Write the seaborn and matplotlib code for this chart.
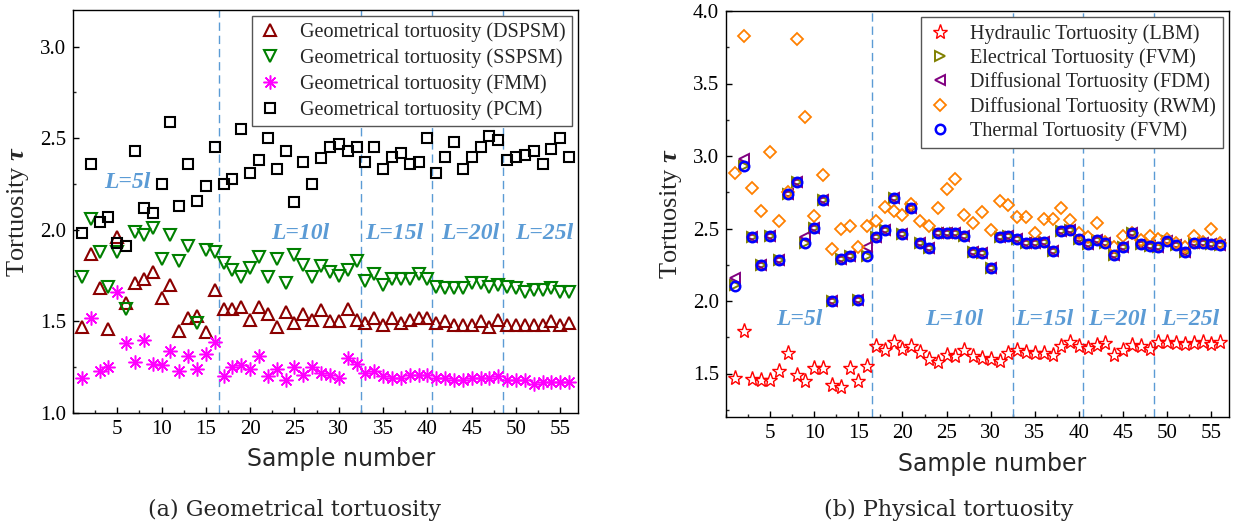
import numpy as np
import pandas as pd
import matplotlib
matplotlib.use('Agg')
import matplotlib.pyplot as plt
import seaborn as sns
from matplotlib.ticker import MultipleLocator, FixedLocator, FormatStrFormatter

# ---------------- data ----------------
samples = list(range(1, 57))

geo_dspsm = [1.47, 1.87, 1.68, 1.46, 1.96, 1.60, 1.71, 1.73, 1.77, 1.63, 1.70, 1.45, 1.52, 1.53, 1.44, 1.67,
             1.57, 1.57, 1.58, 1.51, 1.58, 1.54, 1.47, 1.55, 1.49, 1.54, 1.51, 1.56, 1.50, 1.50, 1.57, 1.51,
             1.49, 1.52, 1.48, 1.52, 1.49, 1.51, 1.52, 1.52, 1.49, 1.50, 1.48, 1.48, 1.48, 1.50, 1.47, 1.51,
             1.48, 1.48, 1.48, 1.48, 1.48, 1.50, 1.48, 1.49]
geo_sspsm = [1.74, 2.06, 1.88, 1.69, 1.88, 1.57, 1.99, 1.97, 2.01, 1.84, 1.97, 1.83, 1.91, 1.49, 1.89, 1.88,
             1.82, 1.78, 1.74, 1.79, 1.85, 1.74, 1.84, 1.71, 1.86, 1.81, 1.74, 1.80, 1.77, 1.75, 1.78, 1.83,
             1.72, 1.76, 1.70, 1.73, 1.73, 1.73, 1.76, 1.73, 1.69, 1.68, 1.68, 1.68, 1.71, 1.71, 1.69, 1.70,
             1.69, 1.68, 1.66, 1.67, 1.67, 1.68, 1.66, 1.66]
geo_fmm = [1.19, 1.52, 1.23, 1.25, 1.66, 1.38, 1.28, 1.40, 1.27, 1.26, 1.34, 1.23, 1.31, 1.24, 1.32, 1.39,
           1.20, 1.25, 1.26, 1.24, 1.31, 1.20, 1.24, 1.18, 1.25, 1.21, 1.25, 1.22, 1.21, 1.19, 1.30, 1.27,
           1.22, 1.23, 1.20, 1.19, 1.19, 1.21, 1.21, 1.21, 1.19, 1.19, 1.18, 1.18, 1.19, 1.19, 1.19, 1.20,
           1.18, 1.18, 1.18, 1.16, 1.17, 1.17, 1.17, 1.17]
geo_pcm = [1.98, 2.36, 2.04, 2.07, 1.93, 1.91, 2.43, 2.12, 2.09, 2.25, 2.59, 2.13, 2.36, 2.16, 2.24, 2.45,
           2.25, 2.28, 2.55, 2.31, 2.38, 2.50, 2.33, 2.43, 2.15, 2.37, 2.25, 2.39, 2.45, 2.47, 2.43, 2.45,
           2.37, 2.45, 2.33, 2.40, 2.42, 2.36, 2.37, 2.50, 2.31, 2.40, 2.48, 2.33, 2.40, 2.45, 2.51, 2.49,
           2.38, 2.40, 2.41, 2.43, 2.36, 2.44, 2.50, 2.40]

hyd_lbm = [1.47, 1.79, 1.46, 1.455, 1.455, 1.52, 1.64, 1.49, 1.45, 1.54, 1.54, 1.42, 1.41, 1.54, 1.45, 1.555,
           1.69, 1.66, 1.715, 1.67, 1.69, 1.65, 1.60, 1.58, 1.625, 1.62, 1.665,
           1.62, 1.61, 1.60, 1.585, 1.64, 1.66, 1.65, 1.64, 1.64, 1.63, 1.69, 1.72, 1.69, 1.675, 1.70, 1.71,
           1.63, 1.665, 1.70, 1.69, 1.67, 1.715, 1.715, 1.71, 1.705, 1.71, 1.72, 1.705, 1.72]
therm_fvm = [2.105, 2.93, 2.44, 2.245, 2.45, 2.28, 2.735, 2.82, 2.40, 2.505, 2.70, 2.00, 2.29, 2.31, 2.01, 2.31,
             2.44, 2.49, 2.71, 2.46, 2.64, 2.40, 2.365, 2.47, 2.47, 2.47, 2.45,
             2.34, 2.33, 2.226, 2.44, 2.45, 2.425, 2.40, 2.40, 2.41, 2.345, 2.48, 2.49, 2.425, 2.395, 2.42,
             2.40, 2.32, 2.37, 2.47, 2.395, 2.38, 2.37, 2.415, 2.385, 2.34, 2.40, 2.40, 2.395, 2.385]
elec_fvm = [2.11, 2.93, 2.44, 2.245, 2.45, 2.28, 2.735, 2.82, 2.40, 2.505, 2.70, 2.00, 2.29, 2.31, 2.01, 2.31,
            2.44, 2.49, 2.71, 2.46, 2.64, 2.40, 2.365, 2.47, 2.47, 2.47, 2.45,
            2.34, 2.33, 2.226, 2.44, 2.45, 2.425, 2.40, 2.40, 2.41, 2.345, 2.48, 2.49, 2.425, 2.395, 2.42,
            2.40, 2.32, 2.37, 2.47, 2.395, 2.38, 2.37, 2.415, 2.385, 2.34, 2.40, 2.40, 2.395, 2.385]
diff_fdm = [2.16, 2.98, 2.44, 2.245, 2.45, 2.28, 2.735, 2.82, 2.44, 2.505, 2.70, 2.00, 2.29, 2.31, 2.01, 2.375,
            2.44, 2.49, 2.71, 2.46, 2.64, 2.40, 2.365, 2.47, 2.47, 2.47, 2.45,
            2.34, 2.33, 2.226, 2.44, 2.45, 2.425, 2.40, 2.40, 2.41, 2.345, 2.48, 2.49, 2.425, 2.395, 2.42,
            2.40, 2.32, 2.37, 2.47, 2.395, 2.38, 2.37, 2.415, 2.385, 2.34, 2.40, 2.40, 2.395, 2.385]
diff_rwm = [2.88, 3.83, 2.78, 2.62, 3.03, 2.55, 2.75, 3.81, 3.27, 2.585, 2.87, 2.36, 2.50, 2.52, 2.375, 2.52,
            2.55, 2.645, 2.62, 2.59, 2.67, 2.55, 2.52, 2.64,
            2.77, 2.84, 2.59, 2.54, 2.615, 2.49, 2.69, 2.665, 2.58, 2.58, 2.47, 2.565, 2.565, 2.64, 2.56,
            2.47, 2.44, 2.54, 2.41, 2.37, 2.45, 2.47, 2.42, 2.45, 2.43, 2.43, 2.40, 2.37, 2.45, 2.41, 2.50, 2.40]

boundaries = [16.5, 32.5, 40.5, 48.5]
region_labels = ['5', '10', '15', '20', '25']
region_x_left = [6.1, 25.6, 36.3, 44.8, 53.2]
region_y_left = [2.26, 1.98, 1.98, 1.98, 1.98]
region_x_right = [8.3, 25.9, 36.1, 44.3, 52.6]
region_y_right = [1.87, 1.87, 1.87, 1.87, 1.87]
x_ticks = [5, 10, 15, 20, 25, 30, 35, 40, 45, 50, 55]

# ---------------- style ----------------
sns.set_theme(style='ticks')
plt.rcParams['font.family'] = ['Liberation Serif', 'DejaVu Serif']
plt.rcParams['mathtext.fontset'] = 'custom'
plt.rcParams['mathtext.rm'] = 'Liberation Serif'
plt.rcParams['mathtext.it'] = 'Liberation Serif:italic'
plt.rcParams['mathtext.bf'] = 'Liberation Serif:bold:italic'

W, H = 1244, 530
fig = plt.figure(figsize=(W / 100, H / 100), dpi=100)
axL = fig.add_axes([73 / W, 1 - 413 / H, (578 - 73) / W, (413 - 10) / H])
axR = fig.add_axes([726 / W, 1 - 417 / H, (1229 - 726) / W, (417 - 11) / H])

line_blue = '#5B9BD5'


def pts(ax, y, label, marker, color, ms, mew, z):
    sns.lineplot(x=samples, y=y, ax=ax, label=label, marker=marker, linestyle='',
                 color=color, markerfacecolor='none', markeredgecolor=color,
                 markersize=ms, markeredgewidth=mew, estimator=None, errorbar=None,
                 sort=False, zorder=z)


# left panel
pts(axL, geo_dspsm, 'Geometrical tortuosity (DSPSM)', '^', '#8B0000', 8.5, 1.5, 3)
pts(axL, geo_sspsm, 'Geometrical tortuosity (SSPSM)', 'v', '#008000', 8.5, 1.5, 3)
pts(axL, geo_fmm, 'Geometrical tortuosity (FMM)', (8, 2, 0), '#FF00FF', 10, 1.1, 3)
pts(axL, geo_pcm, 'Geometrical tortuosity (PCM)', 's', '#000000', 7, 1.5, 3)

# right panel
pts(axR, hyd_lbm, 'Hydraulic Tortuosity (LBM)', '*', '#FF0000', 11, 1.0, 3)
pts(axR, elec_fvm, 'Electrical Tortuosity (FVM)', '>', '#808000', 7.5, 1.4, 3)
pts(axR, diff_fdm, 'Diffusional Tortuosity (FDM)', '<', '#800080', 7.5, 1.4, 3)
pts(axR, diff_rwm, 'Diffusional Tortuosity (RWM)', 'D', '#FF8000', 6.3, 1.3, 3)
pts(axR, therm_fvm, 'Thermal Tortuosity (FVM)', 'o', '#0000FF', 6.8, 1.8, 4)

for ax, ylim, ys, xs in [(axL, (1.0, 3.2), region_y_left, region_x_left),
                         (axR, (1.2, 4.0), region_y_right, region_x_right)]:
    ax.set_xlim(0, 57)
    ax.set_ylim(*ylim)
    for b in boundaries:
        ax.axvline(b, color=line_blue, lw=1.0, dashes=(6, 3.5), zorder=1)
    for lab, xx, yy in zip(region_labels, xs, ys):
        ax.text(xx, yy, f'L={lab}l', color=line_blue, fontsize=17, fontstyle='italic',
                fontweight='bold', ha='center', va='center', zorder=2)
    ax.xaxis.set_major_locator(FixedLocator(x_ticks))
    ax.xaxis.set_minor_locator(MultipleLocator(2.5))
    ax.yaxis.set_major_locator(MultipleLocator(0.5))
    ax.yaxis.set_minor_locator(MultipleLocator(0.25))
    ax.tick_params(which='major', direction='in', length=4, width=1.0, labelsize=15,
                   colors='black', pad=5)
    ax.tick_params(which='minor', direction='in', length=2.5, width=1.0)
    ax.tick_params(top=False, right=False, which='both')
    for sp in ax.spines.values():
        sp.set_visible(True)
        sp.set_linewidth(1.0)
        sp.set_color('black')
    ax.set_xlabel('Sample number', fontsize=17, family='DejaVu Sans')
    ax.set_ylabel(r'Tortuosity $\mathbf{\tau}$', fontsize=19)
    ax.grid(False)
    ax.set_facecolor('white')
    ax.yaxis.set_major_formatter(FormatStrFormatter('%.1f'))

axL.xaxis.set_label_coords(0.53, -0.085)
axR.xaxis.set_label_coords(0.53, -0.085)
axL.yaxis.set_label_coords(-0.083, 0.5)
axR.yaxis.set_label_coords(-0.083, 0.5)

legL = axL.legend(loc='upper right', fontsize=14.5, frameon=True, fancybox=False, framealpha=1,
                  edgecolor='#555555', handlelength=1.2, handletextpad=0.9, labelspacing=0.32,
                  borderpad=0.3, borderaxespad=0.3)
legR = axR.legend(loc='upper right', fontsize=14.5, frameon=True, fancybox=False, framealpha=1,
                  edgecolor='#555555', handlelength=1.2, handletextpad=0.9, labelspacing=0.22,
                  borderpad=0.35, borderaxespad=0.3)
for lg in (legL, legR):
    lg.get_frame().set_linewidth(1.0)
    lg.set_zorder(10)

fig.text(295 / W, 1 - 510 / H, '(a) Geometrical tortuosity', ha='center', va='center',
         fontsize=16, family='DejaVu Serif')
fig.text(949 / W, 1 - 510 / H, '(b) Physical tortuosity', ha='center', va='center',
         fontsize=16, family='DejaVu Serif')

fig.savefig('out.png', dpi=100, facecolor='white')
